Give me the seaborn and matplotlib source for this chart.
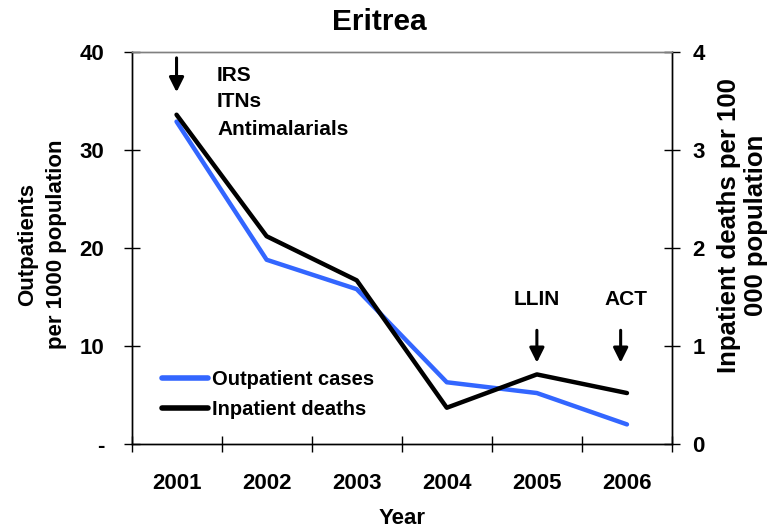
import matplotlib
matplotlib.use("Agg")
import matplotlib.pyplot as plt
import seaborn as sns
import pandas as pd
import numpy as np
from matplotlib.lines import Line2D

# Malaria indicators, Eritrea
years = ["2001", "2002", "2003", "2004", "2005", "2006"]
outpatients = [32.9, 18.8, 15.8, 6.3, 5.2, 2.0]          # per 1000 population
inpatient_deaths = [3.36, 2.12, 1.67, 0.37, 0.71, 0.52]   # per 100 000 population
left_ticks = [0, 10, 20, 30, 40]
left_tick_labels = ["-", "10", "20", "30", "40"]
right_ticks = [0, 1, 2, 3, 4]
series_names = ["Outpatient cases", "Inpatient deaths"]

sns.set_theme(style="white")
plt.rcParams["font.family"] = ["Liberation Sans", "DejaVu Sans"]
plt.rcParams["font.weight"] = "bold"
for key in ["text.color", "axes.labelcolor", "xtick.color", "ytick.color", "axes.edgecolor"]:
    plt.rcParams[key] = "black"

df = pd.DataFrame({"Year": years, "Outpatients": outpatients, "Deaths": inpatient_deaths})

blue = "#3366ff"
fig = plt.figure(figsize=(7.72, 5.28), dpi=100)
ax = fig.add_axes([131.5 / 772, 1 - 444 / 528, 540.5 / 772, 392 / 528])
ax2 = ax.twinx()

sns.lineplot(data=df, x="Year", y="Outpatients", ax=ax, color=blue, lw=3.2, sort=False)
sns.lineplot(data=df, x="Year", y="Deaths", ax=ax2, color="black", lw=3.2, sort=False)

ax.set_xlim(-0.5, 5.5)
ax.set_ylim(0, 40)
ax2.set_ylim(0, 4)

# category labels centred, tick marks between categories
ax.set_xticks(range(len(years)))
ax.set_xticklabels(years)
ax.set_xticks(np.arange(-0.5, len(years), 1.0), minor=True)
ax.tick_params(axis="x", which="major", length=0, pad=21, labelsize=16, bottom=True)
ax.tick_params(axis="x", which="minor", length=11, width=1, direction="inout", bottom=True)

ax.set_yticks(left_ticks)
ax.set_yticklabels(left_tick_labels)
ax.tick_params(axis="y", left=True, right=False, direction="inout", length=11.5, width=1,
               pad=14, labelsize=16)
ax2.set_yticks(right_ticks)
ax2.tick_params(axis="y", right=True, left=False, direction="inout", length=11.5, width=1,
                pad=9, labelsize=16)

for a in (ax, ax2):
    for name, s in a.spines.items():
        s.set_visible(True)
        s.set_linewidth(1.0)
        s.set_color("#808080" if name == "top" else "black")

ax.set_xlabel("Year", fontsize=16, fontweight="bold")
ax.xaxis.set_label_coords(0.5, -0.163)
ax.set_ylabel("Outpatients\nper 1000 population", fontsize=16, fontweight="bold", linespacing=1.5)
ax.yaxis.set_label_coords(-0.119, 0.509)
ax2.set_ylabel("Inpatient deaths per 100\n000 population", fontsize=18.5, fontweight="bold",
               linespacing=1.15)
ax2.yaxis.set_label_coords(1.083, 0.558)

fig.text(379 / 772, 1 - 22 / 528, "Eritrea", ha="center", va="center", fontsize=21.5,
         fontweight="bold")

# interventions
arrow = dict(arrowstyle="-|>", color="black", lw=2.2, mutation_scale=22, shrinkA=0, shrinkB=0)
ax.annotate("", xy=(0, 35.9), xytext=(0, 39.4), arrowprops=arrow)
ax.annotate("", xy=(4, 8.3), xytext=(4, 11.6), arrowprops=arrow)
ax.annotate("", xy=(4.93, 8.3), xytext=(4.93, 11.6), arrowprops=arrow)
for label, y in [("IRS", 37.6), ("ITNs", 34.9), ("Antimalarials", 32.1)]:
    ax.text(0.45, y, label, ha="left", va="center", fontsize=15, fontweight="bold")
ax.text(4.0, 14.7, "LLIN", ha="center", va="center", fontsize=15, fontweight="bold")
ax.text(4.99, 14.7, "ACT", ha="center", va="center", fontsize=15, fontweight="bold")

handles = [Line2D([], [], color=blue, lw=4), Line2D([], [], color="black", lw=4)]
ax2.legend(handles, series_names, loc="upper left",
           bbox_to_anchor=((162 - 131.5) / 540.5, (444 - 370) / 392), frameon=False,
           fontsize=14.5, handlelength=2.3, handletextpad=0.2, labelspacing=0.55,
           borderpad=0, borderaxespad=0)

fig.savefig("out.png", dpi=100)
